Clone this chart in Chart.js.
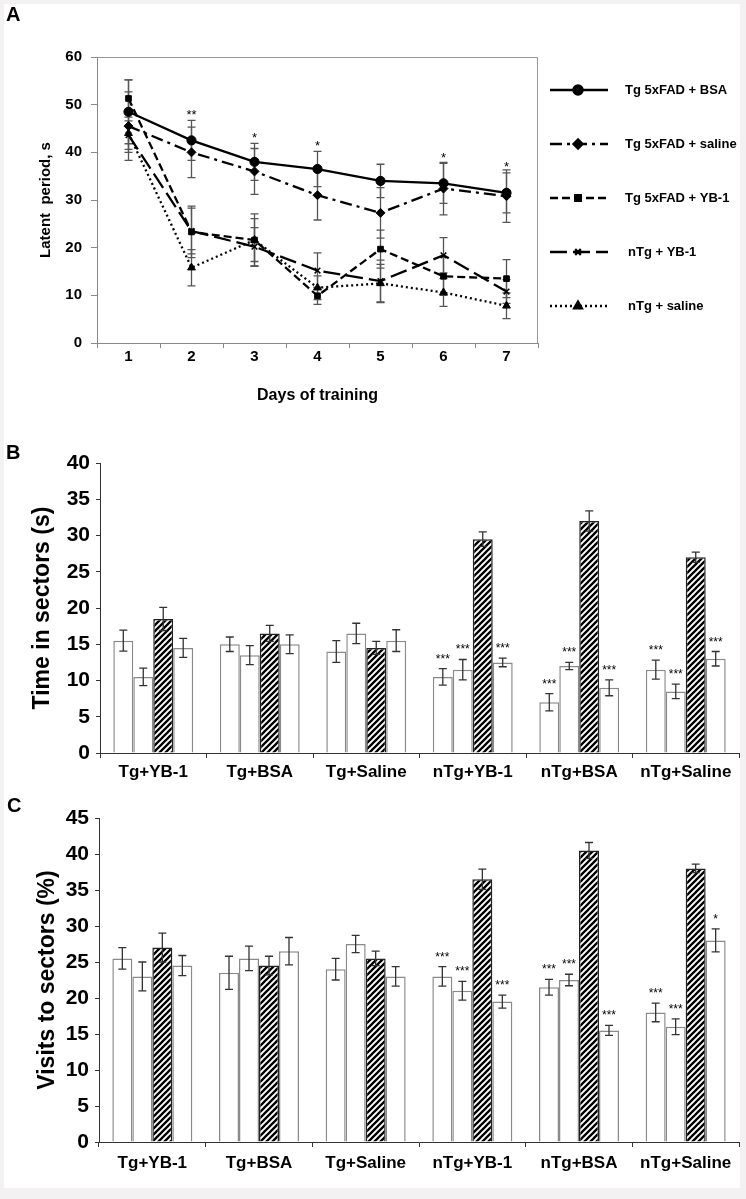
<!DOCTYPE html>
<html>
<head>
<meta charset="utf-8">
<title>Latent period and sector preference</title>
<script src="https://cdn.jsdelivr.net/npm/chart.js@4.4.1/dist/chart.umd.min.js"></script>
<style>
  body { margin: 0; background: #f3f1f1; width: 746px; height: 1199px; position: relative; overflow: hidden; }
  #sheet { position: absolute; left: 4px; top: 4px; width: 736px; height: 1184px; background: #fff; }
  canvas { position: absolute; left: 0; }
  .panel { position: absolute; font: bold 20px 'Liberation Sans', Arial, sans-serif; color: #000; line-height: 22px; }
</style>
</head>
<body>
<div id="sheet"></div>
<canvas id="chartA" width="746" height="420" style="top:0px"></canvas>
<canvas id="chartB" width="746" height="370" style="top:420px"></canvas>
<canvas id="chartC" width="746" height="409" style="top:790px"></canvas>
<div class="panel" style="left:6px;top:3px">A</div>
<div class="panel" style="left:6px;top:441px">B</div>
<div class="panel" style="left:7px;top:794px">C</div>
<script>
// ---- panel A: latent period by day ----
const days = ['1', '2', '3', '4', '5', '6', '7'];
const tgBsa = [48.5, 42.5, 38, 36.5, 34, 33.5, 31.5];
const tgBsaErr = [6.7, 4.2, 3.9, 3.7, 3.5, 4.2, 4.2];
const tgSaline = [45.5, 40, 36, 31, 27.3, 32.4, 30.8];
const tgSalineErr = [7.2, 5.3, 4.8, 5.2, 5.3, 5.5, 5.5];
const tgYb1 = [51.3, 23.3, 21.6, 9.9, 19.7, 14, 13.5];
const tgYb1Err = [3.9, 5.4, 4.5, 1.8, 4, 4, 4];
const ntgYb1 = [43.6, 23.5, 20.2, 15.2, 13, 18.4, 10.8];
const ntgYb1Err = [3, 4.8, 4, 3.7, 4.4, 3.7, 2.5];
const ntgSaline = [44, 15.8, 21.6, 11.6, 12.5, 10.6, 7.8];
const ntgSalineErr = [4, 3.8, 5.5, 2.5, 4, 2.9, 2.7];
const daySignif = ['', '**', '*', '*', '', '*', '*'];

// ---- panels B and C: four sectors per group ----
const groups = ['Tg+YB-1', 'Tg+BSA', 'Tg+Saline', 'nTg+YB-1', 'nTg+BSA', 'nTg+Saline'];

const timeS1 = [15.5, 15, 14, 10.5, 7, 11.5];
const timeS2 = [10.5, 13.5, 16.5, 11.5, 12, 8.5];
const timeS3 = [18.5, 16.5, 14.5, 29.5, 32, 27];
const timeS4 = [14.5, 15, 15.5, 12.5, 9, 13];
const timeErr1 = [1.45, 1, 1.5, 1.15, 1.2, 1.3];
const timeErr2 = [1.2, 1.3, 1.4, 1.4, 0.5, 1];
const timeErr3 = [1.6, 1.1, 0.9, 1, 1.4, 0.7];
const timeErr4 = [1.3, 1.3, 1.5, 0.6, 1.1, 1];
const timeStars1 = ['', '', '', '***', '***', '***'];
const timeStars2 = ['', '', '', '***', '***', '***'];
const timeStars4 = ['', '', '', '***', '***', '***'];

const visitS1 = [25.5, 23.5, 24, 23, 21.5, 18];
const visitS2 = [23, 25.5, 27.5, 21, 22.5, 16];
const visitS3 = [27, 24.5, 25.5, 36.5, 40.5, 38];
const visitS4 = [24.5, 26.5, 23, 19.5, 15.5, 28];
const visitErr1 = [1.5, 2.3, 1.5, 1.35, 1.1, 1.3];
const visitErr2 = [2, 1.7, 1.2, 1.3, 0.8, 1.1];
const visitErr3 = [2, 1.3, 1, 1.4, 1.1, 0.6];
const visitErr4 = [1.4, 1.9, 1.35, 0.9, 0.7, 1.6];
const visitStars1 = ['', '', '', '***', '***', '***'];
const visitStars2 = ['', '', '', '***', '***', '***'];
const visitStars4 = ['', '', '', '***', '***', '*'];

const fontFamily = "'Liberation Sans', Arial, sans-serif";
Chart.defaults.font.family = fontFamily;
Chart.defaults.color = '#000';
Chart.defaults.animation = false;

// error bars + significance marks, drawn through the y scale
const errorBars = {
  id: 'errorBars',
  beforeDatasetsDraw(chart, args, opts) { if (opts.under) drawErrors(chart, opts); },
  afterDatasetsDraw(chart, args, opts) { if (!opts.under) drawErrors(chart, opts); }
};
function drawErrors(chart, opts) {
  const ctx = chart.ctx;
  const yScale = chart.scales.y;
  chart.data.datasets.forEach((ds, i) => {
    if (!ds.errors) return;
    const meta = chart.getDatasetMeta(i);
    ctx.save();
    ctx.strokeStyle = opts.color;
    ctx.lineWidth = opts.width;
    meta.data.forEach((el, j) => {
      const v = ds.data[j];
      const e = ds.errors[j];
      const top = yScale.getPixelForValue(v + e);
      const bot = yScale.getPixelForValue(v - e);
      const x = el.x;
      ctx.beginPath();
      ctx.moveTo(x, top); ctx.lineTo(x, bot);
      ctx.moveTo(x - opts.cap, top); ctx.lineTo(x + opts.cap, top);
      ctx.moveTo(x - opts.cap, bot); ctx.lineTo(x + opts.cap, bot);
      ctx.stroke();
      if (ds.stars && ds.stars[j]) {
        ctx.fillStyle = '#000';
        ctx.font = opts.starFont;
        ctx.textAlign = 'center';
        ctx.textBaseline = 'alphabetic';
        ctx.fillText(ds.stars[j], x, top - opts.starGap);
      }
    });
    ctx.restore();
  });
}

// top/right border of panel A plot
const frame = {
  id: 'frame',
  beforeDatasetsDraw(chart) {
    const {ctx, chartArea: a} = chart;
    ctx.save();
    ctx.strokeStyle = '#999';
    ctx.lineWidth = 1;
    ctx.beginPath();
    ctx.moveTo(a.left, a.top + 0.5);
    ctx.lineTo(a.right - 0.5, a.top + 0.5);
    ctx.lineTo(a.right - 0.5, a.bottom);
    ctx.stroke();
    ctx.restore();
  }
};

// legend on the right of panel A: line sample + marker + name
const sideLegend = {
  id: 'sideLegend',
  afterDraw(chart) {
    const ctx = chart.ctx;
    chart.data.datasets.forEach((ds, i) => {
      const y = 90 + i * 54;
      ctx.save();
      ctx.strokeStyle = '#000';
      ctx.fillStyle = '#000';
      ctx.lineWidth = ds.borderWidth;
      ctx.setLineDash(ds.borderDash || []);
      ctx.beginPath();
      ctx.moveTo(550, y);
      ctx.lineTo(608, y);
      ctx.stroke();
      ctx.setLineDash([]);
      Chart.helpers.drawPoint(ctx, {
        pointStyle: ds.pointStyle, radius: ds.pointRadius,
        borderWidth: ds.pointBorderWidth || 1, rotation: 0
      }, 578, y);
      ctx.font = 'bold 13px ' + fontFamily;
      ctx.textBaseline = 'middle';
      ctx.textAlign = 'left';
      ctx.fillText(ds.label, i < 3 ? 625 : 628, y);
      ctx.restore();
    });
  }
};

function lineSet(label, data, errors, style, radius, dash, extra) {
  return Object.assign({
    label: label, data: data, errors: errors,
    borderColor: '#000', backgroundColor: '#000',
    pointBackgroundColor: '#000', pointBorderColor: '#000',
    borderWidth: 2.3, borderDash: dash,
    pointStyle: style, pointRadius: radius, pointBorderWidth: 1,
    tension: 0, fill: false
  }, extra || {});
}

new Chart(document.getElementById('chartA'), {
  type: 'line',
  data: {
    labels: days,
    datasets: [
      lineSet('Tg 5xFAD + BSA', tgBsa, tgBsaErr, 'circle', 4.6, [], {stars: daySignif}),
      lineSet('Tg 5xFAD + saline', tgSaline, tgSalineErr, 'rectRot', 4.5, [12, 5, 3, 5]),
      lineSet('Tg 5xFAD + YB-1', tgYb1, tgYb1Err, 'rect', 4, [8, 4]),
      lineSet('nTg + YB-1', ntgYb1, ntgYb1Err, 'crossRot', 4, [17, 6], {pointBorderWidth: 1.5}),
      lineSet('nTg + saline', ntgSaline, ntgSalineErr, 'triangle', 4.5, [2, 3])
    ]
  },
  options: {
    responsive: false,
    layout: { padding: { left: 0, top: 57, right: 208, bottom: 0 } },
    plugins: {
      legend: { display: false },
      tooltip: { enabled: false },
      errorBars: { under: true, color: '#555', width: 1.3, cap: 4, starGap: 1.5, starFont: '13px ' + fontFamily }
    },
    scales: {
      x: {
        type: 'category',
        offset: true,
        grid: { offset: true, drawOnChartArea: false, tickLength: 5, color: '#888' },
        border: { color: '#888' },
        ticks: { font: { size: 15, weight: 'bold' }, padding: 0 },
        title: { display: true, text: 'Days of training', font: { size: 16, weight: 'bold' }, padding: { top: 0, bottom: 15 } },
        afterFit: s => { s.height = 77; }
      },
      y: {
        min: 0, max: 60,
        ticks: { stepSize: 10, font: { size: 15, weight: 'bold' }, padding: 9 },
        grid: { drawOnChartArea: false, tickLength: 6, color: '#888' },
        border: { color: '#888' },
        title: { display: true, text: 'Latent  period, s', font: { size: 15, weight: 'bold' }, padding: { top: 37, bottom: 0 } },
        afterFit: s => { s.width = 97; }
      }
    }
  },
  plugins: [frame, errorBars, sideLegend]
});

// diagonal hatch for the target sector
function hatch() {
  const t = document.createElement('canvas');
  t.width = 6; t.height = 6;
  const c = t.getContext('2d');
  c.fillStyle = '#fff';
  c.fillRect(0, 0, 6, 6);
  c.strokeStyle = '#000';
  c.lineWidth = 2.3;
  c.beginPath();
  c.moveTo(-1, 7); c.lineTo(7, -1);
  c.moveTo(-1, 1); c.lineTo(1, -1);
  c.moveTo(5, 7); c.lineTo(7, 5);
  c.stroke();
  return c.createPattern(t, 'repeat');
}
const hatchFill = hatch();

function barSet(data, errors, stars, hatched) {
  return {
    data: data, errors: errors, stars: stars,
    backgroundColor: hatched ? hatchFill : '#fff',
    borderColor: hatched ? '#222' : '#8a8a8a',
    borderWidth: 1.5,
    categoryPercentage: 0.75,
    barPercentage: 1.0
  };
}

function sectorChart(id, sets, yMax, yTitle, o) {
  return new Chart(document.getElementById(id), {
    type: 'bar',
    data: { labels: groups, datasets: sets },
    options: {
      responsive: false,
      layout: { padding: { left: 0, top: o.top, right: 7, bottom: 0 } },
      plugins: {
        legend: { display: false },
        tooltip: { enabled: false },
        errorBars: { under: false, color: '#333', width: 1.3, cap: 4, starGap: 6, starFont: '12px ' + fontFamily }
      },
      scales: {
        x: {
          grid: { drawOnChartArea: false, tickLength: 5, color: '#333' },
          border: { color: '#333' },
          ticks: { font: { size: 17, weight: 'bold' }, padding: o.labelPad },
          afterFit: s => { s.height = o.xHeight; }
        },
        y: {
          min: 0, max: yMax,
          ticks: { stepSize: 5, font: { size: 21, weight: 'bold' }, padding: 6 },
          grid: { drawOnChartArea: false, tickLength: 4, color: '#333' },
          border: { color: '#333' },
          title: { display: true, text: yTitle, font: { size: 23, weight: 'bold' }, padding: { top: o.titlePad, bottom: 0 } },
          afterFit: s => { s.width = o.left; }
        }
      }
    },
    plugins: [errorBars]
  });
}

sectorChart('chartB', [
  barSet(timeS1, timeErr1, timeStars1, false),
  barSet(timeS2, timeErr2, timeStars2, false),
  barSet(timeS3, timeErr3, null, true),
  barSet(timeS4, timeErr4, timeStars4, false)
], 40, 'Time in sectors (s)', { top: 43, xHeight: 37, labelPad: 4, left: 100, titlePad: 29 });

sectorChart('chartC', [
  barSet(visitS1, visitErr1, visitStars1, false),
  barSet(visitS2, visitErr2, visitStars2, false),
  barSet(visitS3, visitErr3, null, true),
  barSet(visitS4, visitErr4, visitStars4, false)
], 45, 'Visits to sectors (%)', { top: 28, xHeight: 57, labelPad: 6, left: 99, titlePad: 34 });
</script>
</body>
</html>
